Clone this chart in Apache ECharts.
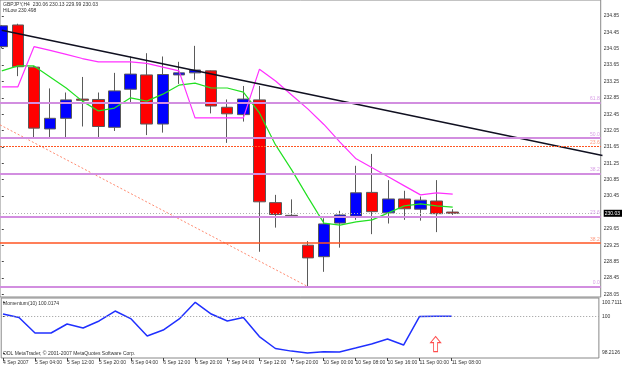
<!DOCTYPE html>
<html>
<head>
<meta charset="utf-8" />
<title>GBPJPY,H4</title>
<style type="text/css">
html,body{margin:0;padding:0;background:#fff}
#chart{width:625px;height:367px}
</style>
<script src="https://cdn.jsdelivr.net/npm/echarts@6/dist/echarts.min.js"></script>
</head>
<body>
<div id="chart"></div>
<script type="text/javascript">
// bars, H4, [open, close, low, high]
var ohlc = [
	[234.10,234.61,234.06,234.63],
	[234.63,233.61,233.38,234.66],
	[233.60,232.11,231.89,233.63],
	[232.09,232.35,231.89,233.08],
	[232.35,232.80,231.89,232.98],
	[232.82,232.79,232.15,233.36],
	[232.81,232.15,231.89,232.98],
	[232.13,233.02,232.04,233.46],
	[233.06,233.43,232.73,233.86],
	[233.41,232.21,231.94,233.94],
	[232.21,233.42,232.00,233.86],
	[233.41,233.46,233.19,233.73],
	[233.46,233.53,233.29,234.12],
	[233.51,232.65,232.47,233.52],
	[232.62,232.46,231.75,232.81],
	[232.44,232.82,232.27,233.14],
	[232.80,230.31,229.09,233.14],
	[230.29,230.00,229.68,230.48],
	[229.98,229.97,229.96,230.37],
	[229.25,228.94,228.24,229.35],
	[228.97,229.77,228.60,229.91],
	[229.79,229.99,229.19,230.09],
	[229.96,230.53,229.87,231.19],
	[230.54,230.07,229.52,231.48],
	[230.04,230.38,229.78,230.84],
	[230.38,230.14,229.87,230.58],
	[230.13,230.35,229.85,230.44],
	[230.33,230.02,229.57,230.84],
	[230.06,230.03,229.99,230.13]
];
var maFast = [233.51,233.63,233.63,233.36,233.09,232.77,232.53,232.60,232.85,232.77,232.94,233.16,233.21,233.09,233.09,232.99,232.48,231.70,231.09,230.43,229.79,229.74,229.82,229.87,230.04,230.21,230.26,230.21,230.18];
var hiLow = [233.12,233.12,234.10,234.01,233.91,233.81,233.73,233.73,233.73,233.69,233.60,233.51,232.36,232.36,232.36,232.36,233.55,233.26,232.92,232.58,232.20,231.77,231.36,231.14,230.92,230.70,230.48,230.53,230.498];
var momentum = [100.13,99.96,99.195,99.195,99.64,99.44,99.79,100.28,99.89,99.05,99.34,99.89,100.7111,100.13,99.79,99.96,99.02,98.43,98.30,98.2126,98.27,98.26,98.45,98.65,98.90,98.60,100.01,100.02,100.0174];

var xTickIdx = [0,2,4,6,8,10,12,14,16,18,20,22,24,26,28];
var xTickText = ['4 Sep 2007','5 Sep 04:00','5 Sep 12:00','5 Sep 20:00','6 Sep 04:00','6 Sep 12:00','6 Sep 20:00','7 Sep 04:00','7 Sep 12:00','7 Sep 20:00','10 Sep 00:00','10 Sep 08:00','10 Sep 16:00','11 Sep 00:00','11 Sep 08:00'];
var priceTicks = [228.05,228.45,228.85,229.25,229.65,230.45,230.85,231.25,231.65,232.05,232.45,232.85,233.25,233.65,234.05,234.45,234.85];
var lastPrice = 230.03;
var momTicks = [98.2126,100,100.7111];

// trendline, fibo base line: [bar index, price]
var trendLine = [[0,234.50],[37.3,231.44]];
var fiboBase = [[-0.11,232.19],[19,228.24]];
// fibo levels
var fiboA = [232.74,231.87,231.00,229.95,228.24];
var fiboAName = ['61.8','50.0','38.2','23.6','0.0'];
var fiboB = [231.67,229.30];
var fiboBName = ['23.6','38.2'];
var arrowUp = [[27,98.65]];

var font = 'Liberation Sans';
var txt = {fontSize:5, fontWeight:'normal', color:'#333', fontFamily:font};

function idxData(arr){
	return arr.map(function(v,i){ return [i,v]; });
}

var levels = [];
fiboA.forEach(function(p,i){
	levels.push({yAxis:p, lineStyle:{color:'#d28ee0', width:2, type:'solid'},
		label:{show:true, position:'insideEndTop', formatter:fiboAName[i], color:'#d9a0e6', fontSize:5, fontFamily:font, distance:1}});
});
fiboB.forEach(function(p,i){
	levels.push({yAxis:p, lineStyle:{color:'#ff5522', width:i==0?1.2:1.5, type:i==0?[2,1]:'solid', opacity:1},
		label:{show:true, position:'insideEndTop', formatter:fiboBName[i], color:'#ff9a80', fontSize:5, fontFamily:font, distance:1}});
});
levels.push({yAxis:lastPrice, lineStyle:{color:'#b0b0b0', width:1, type:[1,2]}, label:{show:false}});

var option = {
	animation:false,
	backgroundColor:'#fff',
	title:[
		{text:'GBPJPY,H4  230.06 230.13 229.99 230.03', left:3, top:2, padding:0, textStyle:txt},
		{text:'HiLow 230.498', left:3, top:8, padding:0, textStyle:txt},
		{text:'Momentum(10) 100.0174', left:3, top:301, padding:0, textStyle:txt},
		{text:'ODL MetaTrader, © 2001-2007 MetaQuotes Software Corp.', left:3, top:351, padding:0, textStyle:txt}
	],
	grid:[
		{left:0, top:0, width:605, height:297, show:true, borderColor:'#888', borderWidth:1},
		{left:0, top:298, width:605, height:60, show:true, borderColor:'#888', borderWidth:1}
	],
	xAxis:[
		{gridIndex:0, type:'value', min:-0.111, max:37.19, show:false},
		{gridIndex:1, type:'value', min:-0.111, max:37.19,
			axisLine:{show:false}, splitLine:{show:false},
			axisTick:{show:true, customValues:xTickIdx, length:3, lineStyle:{color:'#444'}},
			axisLabel:{customValues:xTickIdx, align:'left', margin:2, fontSize:5, color:'#333', fontFamily:font,
				formatter:function(v){ return xTickText[xTickIdx.indexOf(Math.round(v))] || ''; }}
		}
	],
	yAxis:[
		{gridIndex:0, type:'value', position:'right', min:227.985, max:235.24,
			splitLine:{show:false}, axisLine:{show:false},
			axisTick:{show:true, customValues:priceTicks, length:2, lineStyle:{color:'#444'}},
			axisLabel:{customValues:priceTicks.concat([lastPrice]), margin:3, fontSize:5, color:'#333', fontFamily:font,
				formatter:function(v){
					if(Math.abs(v-lastPrice)<0.001) return '{cur|'+v.toFixed(2)+'}';
					return v.toFixed(2);
				},
				rich:{cur:{backgroundColor:'#000', color:'#fff', fontSize:5, fontFamily:font, padding:[1,2,1,1]}}
			}
		},
		{gridIndex:1, type:'value', position:'right', min:97.96, max:100.923,
			splitLine:{show:false}, axisLine:{show:false},
			axisTick:{show:true, customValues:momTicks, length:2, lineStyle:{color:'#444'}},
			axisLabel:{customValues:momTicks, margin:3, fontSize:5, color:'#333', fontFamily:font,
				formatter:function(v){ return String(v); }}
		}
	],
	series:[
		{
			type:'line', xAxisIndex:0, yAxisIndex:0, data:fiboBase, symbol:'none', silent:true,
			lineStyle:{color:'#ff8a70', width:1, type:[2,2]}
		},
		{
			type:'candlestick', xAxisIndex:0, yAxisIndex:0, barWidth:12, clip:true,
			data:ohlc.map(function(d,i){ return [i].concat(d); }),
			itemStyle:{color:'#0000ff', color0:'#ff0000', borderColor:'#5a5a5a', borderColor0:'#5a5a5a', borderWidth:1},
			markLine:{symbol:'none', silent:true, data:levels}
		},
		{
			type:'line', xAxisIndex:0, yAxisIndex:0, data:idxData(maFast), symbol:'none', silent:true,
			lineStyle:{color:'#22e022', width:1.2}
		},
		{
			type:'line', xAxisIndex:0, yAxisIndex:0, data:idxData(hiLow), symbol:'none', silent:true,
			lineStyle:{color:'#ff30ff', width:1.2}
		},
		{
			type:'line', xAxisIndex:0, yAxisIndex:0, data:trendLine, symbol:'none', silent:true,
			lineStyle:{color:'#101020', width:1.5}
		},
		{
			type:'line', xAxisIndex:1, yAxisIndex:1, data:idxData(momentum), symbol:'none', silent:true,
			lineStyle:{color:'#2030ff', width:1.5},
			markLine:{symbol:'none', silent:true, label:{show:false},
				data:[{yAxis:100, lineStyle:{color:'#999', width:1, type:[1,2]}}]}
		},
		{
			type:'scatter', xAxisIndex:1, yAxisIndex:1, data:arrowUp, silent:true,
			symbol:'path://M5,0 L10,6 L7,6 L7,15 L3,15 L3,6 L0,6 Z', symbolSize:[10,15],
			itemStyle:{color:'#fff', borderColor:'#ff2020', borderWidth:1}
		}
	]
};

echarts.init(document.getElementById('chart')).setOption(option);
</script>
</body>
</html>
